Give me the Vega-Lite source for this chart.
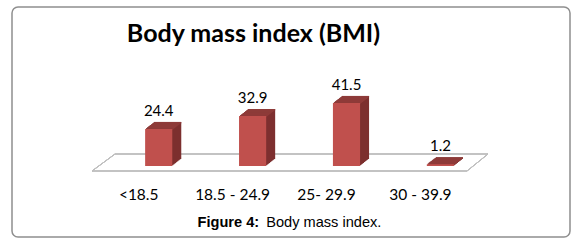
{
  "$schema": "https://vega.github.io/schema/vega-lite/v6.json",
  "width": 558,
  "height": 230,
  "autosize": {"type": "none"},
  "padding": {"left": 12, "top": 7, "right": 8, "bottom": 12},
  "background": "white",
  "view": {"stroke": "#8f8f8f", "strokeWidth": 1.5, "cornerRadius": 6, "fill": "white"},
  "title": {
    "text": "Body mass index (BMI)",
    "font": "Lato",
    "fontSize": 25,
    "fontWeight": "bold",
    "color": "#000000",
    "anchor": "middle",
    "baseline": "alphabetic",
    "offset": 0,
    "dx": -37.5,
    "dy": 59.7
  },
  "data": {
    "values": [
      {"bmi": "<18.5", "pct": 24.4},
      {"bmi": "18.5 - 24.9", "pct": 32.9},
      {"bmi": "25- 29.9", "pct": 41.5},
      {"bmi": "30 - 39.9", "pct": 1.2}
    ]
  },
  "layer": [
    {
      "encoding": {
        "x": {
          "datum": 0,
          "type": "quantitative",
          "scale": {"domain": [0, 1], "range": [99.75, 475.35], "nice": false, "zero": false},
          "axis": {
            "orient": "bottom",
            "labels": false, "ticks": false, "domain": false, "grid": false,
            "offset": -37.7,
            "title": "Figure 4:",
            "titleFont": "Liberation Sans",
            "titleFontSize": 14.6,
            "titleFontWeight": "bold",
            "titleColor": "#000000",
            "titleX": 185,
            "titleY": 27.4,
            "titleAlign": "left",
            "titleBaseline": "alphabetic"
          }
        },
        "y": {"datum": 0, "type": "quantitative", "scale": {"domain": [0, 50], "range": [159, 83]}, "axis": null}
      },
      "layer": [
        {
          "mark": {"type": "rule", "color": "#bfbfbf", "strokeWidth": 1, "xOffset": -19.75, "x2Offset": -20.35, "yOffset": 5, "y2Offset": 5},
          "encoding": {"x2": {"datum": 1}, "y2": {"datum": 0}}
        },
        {
          "mark": {"type": "rule", "color": "#bfbfbf", "strokeWidth": 1, "xOffset": 3.25, "x2Offset": 0.65, "yOffset": -12, "y2Offset": -12},
          "encoding": {"x2": {"datum": 1}, "y2": {"datum": 0}}
        },
        {
          "mark": {"type": "rule", "color": "#bfbfbf", "strokeWidth": 1, "xOffset": -19.75, "x2Offset": 3.25, "yOffset": 5, "y2Offset": -12},
          "encoding": {"x2": {"datum": 0}, "y2": {"datum": 0}}
        },
        {
          "mark": {"type": "rule", "color": "#bfbfbf", "strokeWidth": 1, "xOffset": -20.35, "x2Offset": 0.65, "yOffset": 5, "y2Offset": -12},
          "encoding": {"x": {"datum": 1, "type": "quantitative"}, "x2": {"datum": 1}, "y2": {"datum": 0}}
        }
      ]
    },
    {
      "encoding": {
        "x": {
          "field": "bmi",
          "type": "nominal",
          "sort": null,
          "scale": {"range": [99.75, 475.35], "paddingInner": 0.711, "paddingOuter": 0.3555},
          "axis": {
            "orient": "bottom",
            "labelAngle": 0,
            "labelFont": "Lato",
            "labelFontSize": 15.5,
            "labelColor": "#000000",
            "labelOffset": -20,
            "labelPadding": 0,
            "labelBaseline": "alphabetic",
            "ticks": false,
            "tickSize": 0,
            "domain": false,
            "grid": false,
            "offset": -37.7,
            "title": "Body mass index.",
            "titleFont": "Liberation Sans",
            "titleFontSize": 14.6,
            "titleFontWeight": "normal",
            "titleColor": "#000000",
            "titleX": 253.7,
            "titleY": 27.4,
            "titleAlign": "left",
            "titleBaseline": "alphabetic"
          }
        },
        "y": {"field": "pct", "type": "quantitative", "scale": {"domain": [0, 50], "range": [159, 83]}, "axis": null}
      },
      "layer": [
        {"mark": {"type": "bar", "color": "#7d302f", "xOffset": 9, "yOffset": -7, "y2Offset": -7}},
        {"mark": {"type": "bar", "color": "#7d302f", "xOffset": 8, "yOffset": -6.22, "y2Offset": -6.22}},
        {"mark": {"type": "bar", "color": "#7d302f", "xOffset": 7, "yOffset": -5.44, "y2Offset": -5.44}},
        {"mark": {"type": "bar", "color": "#7d302f", "xOffset": 6, "yOffset": -4.67, "y2Offset": -4.67}},
        {"mark": {"type": "bar", "color": "#7d302f", "xOffset": 5, "yOffset": -3.89, "y2Offset": -3.89}},
        {"mark": {"type": "bar", "color": "#7d302f", "xOffset": 4, "yOffset": -3.11, "y2Offset": -3.11}},
        {"mark": {"type": "bar", "color": "#7d302f", "xOffset": 3, "yOffset": -2.33, "y2Offset": -2.33}},
        {"mark": {"type": "bar", "color": "#7d302f", "xOffset": 2, "yOffset": -1.56, "y2Offset": -1.56}},
        {"mark": {"type": "bar", "color": "#7d302f", "xOffset": 1, "yOffset": -0.78, "y2Offset": -0.78}},
        {"mark": {"type": "bar", "color": "#8e3b39", "xOffset": 1, "yOffset": -0.78, "y2Offset": 0.72}, "encoding": {"y2": {"field": "pct"}}},
        {"mark": {"type": "bar", "color": "#8e3b39", "xOffset": 2, "yOffset": -1.56, "y2Offset": -0.06}, "encoding": {"y2": {"field": "pct"}}},
        {"mark": {"type": "bar", "color": "#8e3b39", "xOffset": 3, "yOffset": -2.33, "y2Offset": -0.83}, "encoding": {"y2": {"field": "pct"}}},
        {"mark": {"type": "bar", "color": "#8e3b39", "xOffset": 4, "yOffset": -3.11, "y2Offset": -1.61}, "encoding": {"y2": {"field": "pct"}}},
        {"mark": {"type": "bar", "color": "#8e3b39", "xOffset": 5, "yOffset": -3.89, "y2Offset": -2.39}, "encoding": {"y2": {"field": "pct"}}},
        {"mark": {"type": "bar", "color": "#8e3b39", "xOffset": 6, "yOffset": -4.67, "y2Offset": -3.17}, "encoding": {"y2": {"field": "pct"}}},
        {"mark": {"type": "bar", "color": "#8e3b39", "xOffset": 7, "yOffset": -5.44, "y2Offset": -3.94}, "encoding": {"y2": {"field": "pct"}}},
        {"mark": {"type": "bar", "color": "#8e3b39", "xOffset": 8, "yOffset": -6.22, "y2Offset": -4.72}, "encoding": {"y2": {"field": "pct"}}},
        {"mark": {"type": "bar", "color": "#8e3b39", "xOffset": 9, "yOffset": -7, "y2Offset": -5.5}, "encoding": {"y2": {"field": "pct"}}},
        {"mark": {"type": "bar", "color": "#c0504d"}},
        {
          "mark": {"type": "text", "font": "Lato", "fontSize": 15, "color": "#000000", "baseline": "alphabetic", "dy": -13},
          "encoding": {"text": {"field": "pct", "type": "quantitative", "format": ".1f"}}
        }
      ]
    }
  ],
  "resolve": {"scale": {"x": "independent"}, "axis": {"x": "independent"}}
}
